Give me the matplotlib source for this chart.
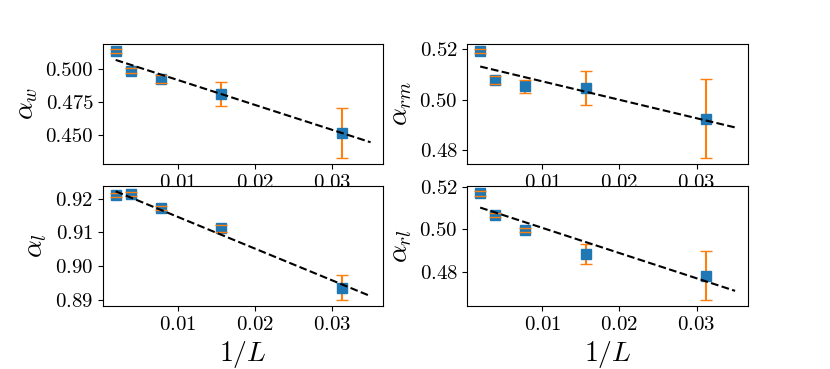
import numpy as np
import matplotlib
matplotlib.use("Agg")
import matplotlib.pyplot as plt

plt.rcParams['font.family'] = 'serif'
plt.rcParams['font.serif'] = ['cmr10']
plt.rcParams['mathtext.fontset'] = 'cm'
plt.rcParams['axes.formatter.use_mathtext'] = True

# system sizes -> 1/L
L = np.array([512, 256, 128, 64, 32])
inv_L = 1.0 / L

# exponents and errors
alpha_w = [0.5133, 0.4983, 0.4925, 0.4808, 0.4512]
err_w = [0.0012, 0.002, 0.003, 0.009, 0.019]

alpha_rm = [0.5192, 0.5077, 0.5052, 0.5047, 0.4923]
err_rm = [0.0008, 0.0015, 0.0025, 0.0068, 0.0158]

alpha_l = [0.9211, 0.9214, 0.9172, 0.9112, 0.8936]
err_l = [0.0005, 0.0005, 0.0005, 0.0011, 0.0037]

alpha_rl = [0.5168, 0.5067, 0.4996, 0.4884, 0.4783]
err_rl = [0.001, 0.001, 0.001, 0.0048, 0.0117]

# linear fits (intercept, slope)
fit_w = (0.5102, -1.879)
fit_rm = (0.5146, -0.735)
fit_l = (0.9240, -0.938)
fit_rl = (0.5125, -1.183)

labels = [r'$\alpha_w$', r'$\alpha_{rm}$', r'$\alpha_l$', r'$\alpha_{rl}$']
values = [alpha_w, alpha_rm, alpha_l, alpha_rl]
errors = [err_w, err_rm, err_l, err_rl]
fits = [fit_w, fit_rm, fit_l, fit_rl]

x_fit = np.array([inv_L[0], 0.035])

fig, axes = plt.subplots(2, 2, figsize=(8.3, 3.69), dpi=100, sharex=True)
plt.subplots_adjust(left=0.124, right=0.901, top=0.881, bottom=0.171,
                    wspace=0.3, hspace=0.183)

for ax, lab, y, e, (a, b) in zip(axes.flat, labels, values, errors, fits):
    ax.plot(inv_L, y, 's', color='C0', markersize=7, zorder=2)
    eb = ax.errorbar(inv_L, y, yerr=e, fmt='none', ecolor='C1', capsize=4)
    # vertical bars behind the squares, caps on top
    for col in eb[2]:
        col.set_zorder(1.5)
    for cap in eb[1]:
        cap.set_zorder(2.5)
    ax.plot(x_fit, a + b * x_fit, '--', color='black', linewidth=1.5, zorder=3)
    ax.set_ylabel(lab, fontsize=20)
    ax.tick_params(labelsize=15, labelbottom=True)

axes[0, 0].set_yticks([0.450, 0.475, 0.500])
axes[0, 0].set_yticklabels(['0.450', '0.475', '0.500'])
axes[0, 1].set_yticks([0.48, 0.50, 0.52])
axes[1, 0].set_yticks([0.89, 0.90, 0.91, 0.92])
axes[1, 1].set_yticks([0.48, 0.50, 0.52])
axes[1, 0].set_xticks([0.01, 0.02, 0.03])

axes[1, 0].set_xlabel(r'$1/L$', fontsize=20)
axes[1, 1].set_xlabel(r'$1/L$', fontsize=20)

plt.savefig('out.png', dpi=100)
